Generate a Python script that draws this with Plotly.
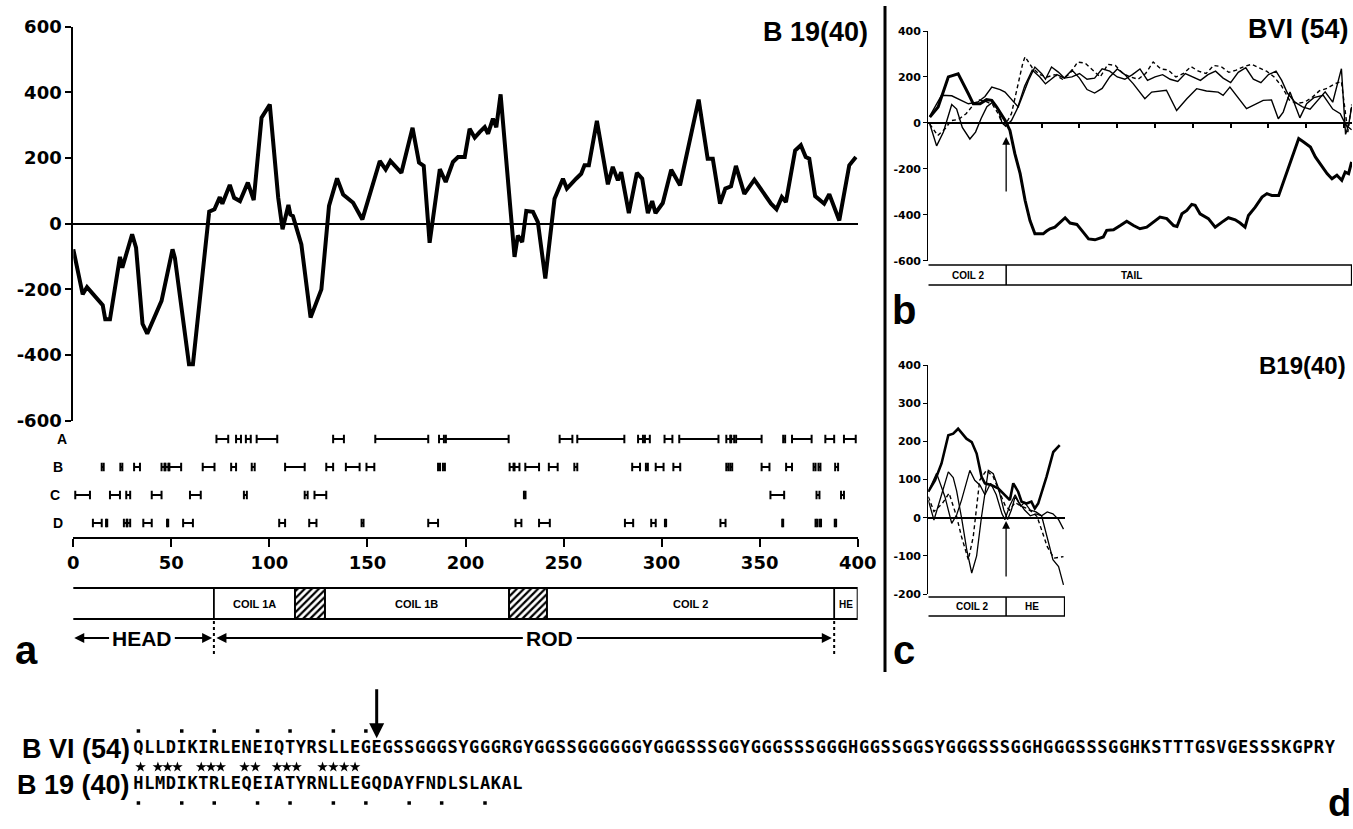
import plotly.graph_objects as go

W, H = 1353, 829
def fx(p): return p / W
def fy(p): return 1 - p / H
def fnt(size, family="Liberation Sans"):
    return dict(family=family, size=size, color="black", weight="bold")

# ---------------- DATA ----------------
# panel a : hydropathy profile of B19(40)
res_a = [0,4.8,7,13.6,15,16.3,18.7,23.8,25,30,32,35.3,37.7,45,50.6,51.8,55.2,59,61,69.3,72,74.7,76,79.8,82,85,89,92,96,100.2,
         104.5,106.7,109.7,110.7,112,116.3,121,126.5,130.4,134.5,137.6,142.7,147.4,156.3,159.3,161.7,167.3,173,176.3,178.7,181.7,
         186.9,189.9,193.6,196.2,199.6,202.1,204.7,207.2,209.8,211.5,214,215.7,217.9,225,226.7,228.9,231,234.4,236.9,240.7,245.4,
         249.7,251.7,256.4,259,260.7,262.9,267,272.6,275.1,277.7,279.4,283.3,287.4,290.1,293,295.2,296.9,300.6,304.9,309.4,318.9,
         323.5,326.1,329.8,332.5,335.4,337.9,342.2,347.3,355.8,358.6,361.3,363.4,368.1,371,373.5,375.3,378.3,382.9,385.5,390.6,
         395.7,399.1]
val_a = [-78,-215,-193,-240,-248,-291,-291,-101,-134,-32,-73,-305,-335,-235,-78,-104,-256,-428,-428,37,44,81,61,118,79,69,125,72,
         323,363,79,-17,57,28,23,-63,-286,-200,54,138,89,64,13,191,165,191,155,292,186,176,-58,166,127,188,203,203,289,262,279,294,
         274,320,294,394,-101,-36,-56,39,36,5,-167,76,137,107,137,152,178,178,313,120,173,132,157,32,155,137,32,69,32,63,164,117,
         378,198,198,61,107,114,176,91,134,61,44,81,66,223,239,203,198,84,61,90,10,178,203]

# predicted intervals (rows A-D)
row_labels = ["A", "B", "C", "D"]
row_A = [(73,79),(83,85.5),(88,90.5),(93.5,104),(132.5,138),(154,181),(186.5,189),(190,222),(248,254.5),(257,281),
         (288,290.5),(291.5,294),(301.5,305.5),(309,329),(333,335),(335.5,337),(338,351),(362,363),(366.5,376.5),
         (383.5,388),(393,399)]
row_B = [(14.5,15.5),(24,25),(31,34),(45,46.5),(47,48.5),(49,55),(66,72),(80.5,83),(91,92.5),(108,118),(129,132.5),
         (139,146),(149.5,153.5),(186,187),(188.5,189.5),(222.5,224.5),(225,227.5),(230.5,237.5),(242.5,247),(255.5,257),
         (285,289),(292,293),(297,301),(306,309.5),(333,334),(335,336),(351,355),(363.5,366.5),(377.5,378.5),(380,381),
         (388.5,390)]
row_C = [(1,8.5),(18.7,23.8),(27,29),(40,45),(59.5,65),(87,88.5),(118,119.5),(123,129),(229.8,230.6),(355.5,362.5),
         (379,380.5),(391.5,393)]
row_D = [(10,14.5),(16.7,17.3),(25.8,27.2),(27.6,29),(35.7,40),(47.8,48.4),(56,61),(105,108),(120.3,124),(147,148),
         (181,186),(225.5,228.5),(237.5,243),(281.3,285.5),(294.7,297),(301.7,302.3),(330,332.6),(361.5,362),
         (378.5,379.3),(380.5,381.3),(388.3,389)]

# domain structure (residue boundaries)
domain_edges = [0, 71.7, 113, 128.3, 222.2, 241.5, 388, 400]
domain_names = ["", "COIL 1A", "", "COIL 1B", "", "COIL 2", "HE"]
linker_spans = [(113, 128.3), (222.2, 241.5)]
head_end, rod_end = 71.7, 388

x_ticks_a = [0, 50, 100, 150, 200, 250, 300, 350, 400]
y_ticks_a = [-600, -400, -200, 0, 200, 400, 600]
y_ticktext_a = ["-600", "-400", "-200", "0", "200", "400", "600"]

# panel b : BVI(54) C-terminal region
b_thick_u = [0.4,2.6,5.3,7.9,10.6,11.9,13.7,15.4,16.8,18.1,20.3,21.6,22.9,24.3,25.6,26.9,28.2,30.4,31.3,32.2,33.5,34.9,36.2,
             37.5,39.3,40.6,42.4,44.1,46.3,47.2,49,50.8,52.5,54.3,56,57.8,59.6,61.3,63.1,64.9,65.8,67.1,68.4,69.7,70.6,71.9,
             74.1,75.9,77.7,79.4,81.2,82.5,83.8,84.7,86.5,88.3,89.6,90.9,92.7,95.3,98,99.3,101.1,102.4,103.7,105.5,106.8,
             108.1,109.4,110.3,111.2,112]
b_thick_v = [25,69,200,214,127,83,83,101,98,69,11,-33,-134,-221,-337,-425,-483,-483,-471,-461,-454,-432,-413,-436,-442,
             -468,-505,-509,-497,-468,-465,-447,-428,-447,-461,-454,-432,-410,-417,-447,-451,-396,-381,-355,-359,-396,-417,
             -454,-432,-413,-422,-436,-454,-403,-367,-323,-308,-316,-316,-192,-68,-83,-105,-148,-177,-221,-243,-228,-250,
             -214,-221,-170]
b_thin1_u = [0.4,3.5,6.2,10.6,13,15,16.8,19,20.3,22.5,23.8,26.5,28.2,30,31,32.6,34.4,36,38,40,42,44,46,48,50,52,54,56,58,
             60,62,64,66,68,70,72,74,76,78,80,82,84,86,88,90,92,93.5,95,97,99,101,103,105,107,109.3,110.4,111.2,112]
b_thin1_v = [30,120,118,83,90,115,156,145,134,91,69,185,243,214,190,243,221,195,200,215,190,195,235,225,200,190,210,235,
             185,200,210,190,180,215,200,185,210,225,195,175,220,240,190,175,210,225,185,130,90,70,60,100,135,90,236,-50,
             -10,70]
b_thin2_u = [0.4,2.2,4,6.2,7.5,9,11,12.5,14,15.5,17,18.5,19.5,20.5,22,23.5,25.5,27.5,29.5,31,32.5,34,36,38,40,42,44,46,48,
             50,52,54.2,57.3,59.1,63,65.7,68.4,71,73.6,76.7,78,79.8,84.2,88.6,90.8,92.6,93.9,95.7,98.3,100.1,102,104.5,107,
             109,110.5,112]
b_thin2_v = [-5,-100,-40,80,60,-20,-70,-40,20,70,90,60,0,-15,10,60,160,230,200,170,190,210,195,230,195,145,130,150,200,
             235,210,171,105,134,142,54,105,149,139,134,120,156,62,98,100,18,47,134,22,83,110,120,60,40,-10,-30]
b_dash_u = [0.4,2.5,4.5,6,8,10,12,13.5,15,17,18.5,19.5,20.5,22,23.5,25,25.6,27.5,29.5,31.5,33.5,35.5,37.5,39.5,41.5,43.5,
            45.5,47.5,49.5,51.5,53.5,55.5,57.5,59.5,61.5,63.5,65.5,67.5,69.5,71.5,73.5,75.5,77.5,79.5,81.5,83.5,85.5,87.5,
            89.5,91.5,93.5,95.5,97.5,99.5,101.5,103.5,105.5,107.5,109.3,111,112]
b_dash_v = [-5,-55,-25,10,15,40,80,100,95,80,40,0,-5,40,150,260,288,240,210,200,210,190,215,265,260,230,200,255,250,215,
            200,190,215,265,235,230,200,215,245,225,215,250,245,220,230,245,255,240,225,200,160,100,85,90,110,140,150,170,
            180,-40,80]
b_coil_tail_border = 20.6
b_xticks = [30, 40, 50, 60, 70, 80, 90, 100, 110]
b_yticks = [-600, -400, -200, 0, 200, 400]
b_yticktext = ["-600", "-400", "-200", "0", "200", "400"]

# panel c : B19(40) C-terminal region
c_thick_u = [0,1.8,3.5,5.3,6.6,7.9,10.1,11.5,12.8,14.1,15,16.8,18.5,20.3,21.6,22.5,23.8,24.7,26,27.3,28.2,29.1,30,31.3,33.1,34.8]
c_thick_v = [68,98,142,216,220,233,207,198,168,107,90,85,77,59,46,90,68,42,37,42,24,37,64,107,172,190]
c_thin1_u = [0,1.5,3.5,5.3,6.6,7.5,8.8,10.2,11.5,12.8,14.1,15.9,17.2,18.5,20,21,22,23,24.5,25.5,27,28.5,30,31.5,33,34.5,35.8]
c_thin1_v = [46,-6,60,120,105,70,0,-85,-145,-100,3,124,115,80,20,-5,20,55,30,40,20,15,5,-50,-110,-128,-176]
c_thin2_u = [0,2.2,4.4,6.2,7.5,8.8,11,12.3,13.7,15,16.5,18,19.5,20.3,21.5,23,24,25.5,27,28.5,30,31.5,33,34.5,35.8]
c_thin2_v = [68,116,55,-15,7,46,124,98,85,60,90,60,10,-5,30,60,40,20,5,10,5,15,10,-5,-30]
c_dash_u = [0,1.5,3.7,5.5,7.5,8.8,10.6,11.9,13.6,15.4,17.2,18.9,20.3,21.5,23,24.5,26,27.5,28.8,30,31.5,33.3,35.8]
c_dash_v = [55,16,37,64,3,-50,-110,-50,98,124,107,64,33,20,40,30,25,15,3,-32,-76,-106,-102]
c_coil_he_border = 20.6
c_yticks = [-200, -100, 0, 100, 200, 300, 400]
c_yticktext = ["-200", "-100", "0", "100", "200", "300", "400"]

# panel d : sequences
seq_bvi = "QLLDIKIRLENEIQTYRSLLEGEGSSGGGSYGGGRGYGGSSGGGGGGYGGGSSSGGYGGGSSSGGGHGGSSGGSYGGGSSSGGHGGGSSSGGHKSTTTGSVGESSSKGPRY"
seq_b19 = "HLMDIKTRLEQEIATYRNLLEGQDAYFNDLSLAKAL"
top_dots = [1, 5, 8, 12, 15, 19, 22]
bottom_dots = [1, 5, 8, 12, 15, 19, 22, 26, 29, 33]
star_cols = [1.2, 2.8, 3.7, 4.6, 6.8, 7.7, 8.6, 10.8, 11.8, 13.8, 14.7, 15.6, 18.0, 19.0, 20.0, 21.0]
cleavage_col = 23

# ---------------- FIGURE ----------------
fig = go.Figure()

# panel a curve
fig.add_trace(go.Scatter(x=res_a, y=val_a, xaxis="x", yaxis="y", mode="lines",
                         line=dict(color="black", width=4)))

# interval rows
cap = 0.15
for r, row in enumerate([row_A, row_B, row_C, row_D]):
    xs, ys = [], []
    for a, b in row:
        xs += [a, b, None, a, a, None, b, b, None]
        ys += [r, r, None, r - cap, r + cap, None, r - cap, r + cap, None]
    fig.add_trace(go.Scatter(x=xs, y=ys, xaxis="x", yaxis="y2", mode="lines",
                             line=dict(color="black", width=2)))

# hatched linker bars
fig.add_trace(go.Bar(x=[(a + b) / 2 for a, b in linker_spans], width=[b - a for a, b in linker_spans],
                     y=[31] * len(linker_spans), base=[588] * len(linker_spans), xaxis="x", yaxis="y5",
                     marker=dict(color="white", line=dict(color="black", width=1.8),
                                 pattern=dict(shape="/", fgcolor="black", bgcolor="white", size=5, solidity=0.45))))

# panel b curves
for u, v, w, d in [(b_thin1_u, b_thin1_v, 1.4, "solid"), (b_thin2_u, b_thin2_v, 1.4, "solid"),
                   (b_dash_u, b_dash_v, 1.4, "4px,3px"), (b_thick_u, b_thick_v, 3, "solid")]:
    fig.add_trace(go.Scatter(x=u, y=v, xaxis="x3", yaxis="y3", mode="lines",
                             line=dict(color="black", width=w, dash=d)))
# panel c curves
for u, v, w, d in [(c_thin1_u, c_thin1_v, 1.3, "solid"), (c_thin2_u, c_thin2_v, 1.3, "solid"),
                   (c_dash_u, c_dash_v, 1.4, "4px,3px"), (c_thick_u, c_thick_v, 2.6, "solid")]:
    fig.add_trace(go.Scatter(x=u, y=v, xaxis="x4", yaxis="y4", mode="lines",
                             line=dict(color="black", width=w, dash=d)))

# panel d sequences
seqfont = dict(family="DejaVu Sans Mono", size=17, color="black", weight="bold")
fig.add_trace(go.Scatter(x=list(range(1, len(seq_bvi) + 1)), y=[1] * len(seq_bvi), text=list(seq_bvi),
                         mode="text", textfont=seqfont, xaxis="x6", yaxis="y6"))
fig.add_trace(go.Scatter(x=list(range(1, len(seq_b19) + 1)), y=[3] * len(seq_b19), text=list(seq_b19),
                         mode="text", textfont=seqfont, xaxis="x6", yaxis="y6"))
fig.add_trace(go.Scatter(x=top_dots, y=[0] * len(top_dots), mode="markers", xaxis="x6", yaxis="y6",
                         marker=dict(symbol="square", size=3.5, color="black")))
fig.add_trace(go.Scatter(x=bottom_dots, y=[4] * len(bottom_dots), mode="markers", xaxis="x6", yaxis="y6",
                         marker=dict(symbol="square", size=3.5, color="black")))
fig.add_trace(go.Scatter(x=star_cols, y=[2] * len(star_cols), mode="markers", xaxis="x6", yaxis="y6",
                         marker=dict(symbol="star", size=8, color="black", line=dict(width=0))))

# ---------------- SHAPES ----------------
shapes = []
def line(x0, y0, x1, y1, xref="x5", yref="y5", width=2, dash="solid"):
    shapes.append(dict(type="line", x0=x0, y0=y0, x1=x1, y1=y1, xref=xref, yref=yref,
                       line=dict(color="black", width=width, dash=dash)))

line(885, 6, 885, 672, width=3)                       # separator
# domain bar
shapes.append(dict(type="rect", xref="x", yref="y5", x0=-0.8, x1=domain_edges[-1], y0=588, y1=619,
                   line=dict(color="black", width=2), fillcolor="rgba(0,0,0,0)"))
for e in domain_edges[1:-1]:
    line(e, 588, e, 619, xref="x", width=1.8)
for e in [-0.8, head_end, rod_end]:
    line(e, 621, e, 656, xref="x", width=2, dash="3px,3px")
# panel b bar
line(0, 265, 112.1, 265, xref="x3", width=1.5)
line(0, 285, 112.1, 285, xref="x3", width=1.5)
line(b_coil_tail_border, 265, b_coil_tail_border, 285, xref="x3", width=1.5)
line(112.0, 265, 112.0, 285, xref="x3", width=1.5)
# panel c bar
line(0, 597, 36.2, 597, xref="x4", width=1.5)
line(0, 616, 36.2, 616, xref="x4", width=1.5)
line(c_coil_he_border, 597, c_coil_he_border, 616, xref="x4", width=1.5)
line(36.1, 597, 36.1, 616, xref="x4", width=1.5)

# ---------------- ANNOTATIONS ----------------
ann = []
def text(t, x, y, size, xref="x5", yref="y5", xanchor="center", family="Liberation Sans"):
    ann.append(dict(text=t, x=x, y=y, xref=xref, yref=yref, showarrow=False, xanchor=xanchor,
                    yanchor="middle", font=fnt(size, family)))
def arrow(x, y, ax, ay, xref, yref, width=2, size=1.0):
    ann.append(dict(text="", x=x, y=y, ax=ax, ay=ay, xref=xref, yref=yref, axref=xref, ayref=yref,
                    showarrow=True, arrowhead=2, arrowsize=size, arrowwidth=width, arrowcolor="black",
                    standoff=0, startstandoff=0))

text("B 19(40)", 815, 32, 27)
text("BVI (54)", 1298, 29, 27)
text("B19(40)", 1302, 365, 24)
text("a", 26, 650, 40)
text("b", 904, 310, 40)
text("c", 904, 650, 40)
text("d", 1339, 803, 38)
for i, (lab, px) in enumerate(zip(row_labels, [62, 58, 55, 58])):
    text(lab, px, i, 14, yref="y2")
for k, name in enumerate(domain_names):
    if name:
        c = (domain_edges[k] + domain_edges[k + 1]) / 2
        text(name, c, 604, 11 if name != "HE" else 10, xref="x")
text("HEAD", 35, 638, 21, xref="x")
text("ROD", 243, 638, 21, xref="x")
arrow(0.5, 638, 19, 638, "x", "y5")
arrow(70.8, 638, 51, 638, "x", "y5")
arrow(73, 638, 230, 638, "x", "y5")
arrow(386.8, 638, 256, 638, "x", "y5")
# panel b / c labels and arrows
text("COIL 2", 10.5, 275, 10, xref="x3")
text("TAIL", 53.8, 275, 10, xref="x3")
text("COIL 2", 11.5, 606.5, 10, xref="x4")
text("HE", 27.4, 606.5, 10, xref="x4")
ann.append(dict(text="", x=b_coil_tail_border, y=137, ax=b_coil_tail_border, ay=193, xref="x3", yref="y5",
                axref="x3", ayref="y5", showarrow=True, arrowhead=2, arrowsize=1.2, arrowwidth=1.3,
                arrowcolor="black", standoff=0))
ann.append(dict(text="", x=c_coil_he_border, y=521, ax=c_coil_he_border, ay=578, xref="x4", yref="y5",
                axref="x4", ayref="y5", showarrow=True, arrowhead=2, arrowsize=1.2, arrowwidth=1.3,
                arrowcolor="black", standoff=0))
# panel d labels and arrow
text("B VI (54)", 132, 1, 27, yref="y6", xanchor="right")
text("B 19 (40)", 132, 3, 27, yref="y6", xanchor="right")
arrow(cleavage_col, 0.4, cleavage_col, -2.4, "x6", "y6", width=3, size=1.0)

# ---------------- LAYOUT ----------------
tickf = fnt(18, "DejaVu Sans")
small_tickf = fnt(11, "DejaVu Sans")
hidden = dict(visible=False, showgrid=False, zeroline=False, automargin=False)
fig.update_layout(
    template="none",
    width=W, height=H, autosize=False, margin=dict(l=0, r=0, t=0, b=0, pad=0, autoexpand=False),
    paper_bgcolor="white", plot_bgcolor="rgba(0,0,0,0)", showlegend=False, hovermode=False,
    xaxis=dict(domain=[fx(73.3), fx(857.7)], range=[0, 400], anchor="y2", showline=True, linecolor="black",
               linewidth=2, ticks="outside", ticklen=8, tickwidth=2, tickcolor="black", tickvals=x_ticks_a,
               tickfont=tickf, showgrid=False, zeroline=False, automargin=False),
    yaxis=dict(domain=[fy(420.7), fy(26.7)], range=[-600, 600], anchor="x", showline=True, linecolor="black",
               linewidth=2, ticks="outside", ticklen=6, tickwidth=2, tickcolor="black", tickvals=y_ticks_a,
               ticktext=y_ticktext_a, tickfont=tickf, showgrid=False, zeroline=True, zerolinecolor="black",
               zerolinewidth=2, automargin=False),
    yaxis2=dict(domain=[fy(537), fy(421)], range=[3.5, -0.643], anchor="x", **hidden),
    xaxis3=dict(domain=[fx(928.3), fx(1352)], range=[0, 112.1], anchor="free", position=fy(122.9),
                showline=True, linecolor="black", linewidth=1.5, ticks="outside", ticklen=4, tickwidth=1.5,
                tickcolor="black", tickvals=b_xticks, showticklabels=False, showgrid=False, zeroline=False,
                automargin=False),
    yaxis3=dict(domain=[fy(260.7), fy(31)], range=[-600, 400], anchor="x3", showline=True, linecolor="black",
                linewidth=1.3, ticks="outside", ticklen=4, tickwidth=1.3, tickcolor="black", tickvals=b_yticks,
                ticktext=b_yticktext, tickfont=small_tickf, showgrid=False, zeroline=False, automargin=False),
    xaxis4=dict(domain=[fx(928.3), fx(1065)], range=[0, 36.2], anchor="free", position=fy(517.7),
                showline=True, linecolor="black", linewidth=1.5, ticks="", showticklabels=False,
                showgrid=False, zeroline=False, automargin=False),
    yaxis4=dict(domain=[fy(594), fy(365)], range=[-200, 400], anchor="x4", showline=True, linecolor="black",
                linewidth=1.3, ticks="outside", ticklen=4, tickwidth=1.3, tickcolor="black", tickvals=c_yticks,
                ticktext=c_yticktext, tickfont=small_tickf, showgrid=False, zeroline=False, automargin=False),
    xaxis5=dict(domain=[0, 1], range=[0, W], anchor="y5", **hidden),
    yaxis5=dict(domain=[0, 1], range=[H, 0], anchor="x5", **hidden),
    xaxis6=dict(domain=[fx(133), fx(1335.2)], range=[0.5, len(seq_bvi) + 0.5], anchor="y6", **hidden),
    yaxis6=dict(domain=[fy(812), fy(722)], range=[4.5, -0.5], anchor="x6", **hidden),
    shapes=shapes, annotations=ann,
)

fig.write_html("out.html", config={"displayModeBar": False},
               post_script="document.body.style.margin='0px';document.body.style.padding='0px';"
                           "document.body.style.overflow='hidden';")
